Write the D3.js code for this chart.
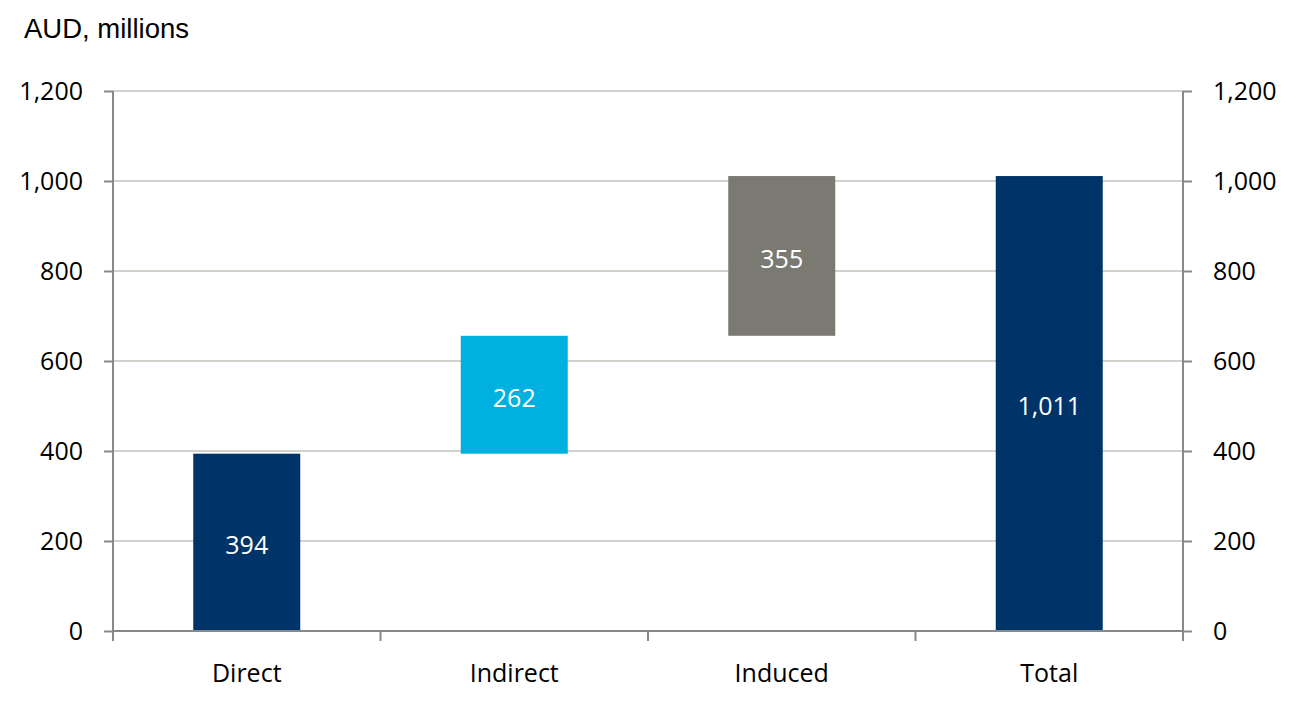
<!DOCTYPE html>
<html>
<head>
<meta charset="utf-8">
<script src="https://cdn.jsdelivr.net/npm/d3@7"></script>
<style>
  body { margin: 0; background: #fff; }
  svg text { font-family: "Open Sans", "Noto Sans", sans-serif; }
</style>
</head>
<body>
<svg id="chart" width="1308" height="704"></svg>
<script>
// waterfall data (AUD millions)
const categories = ["Direct", "Indirect", "Induced", "Total"];
const values = [394, 262, 355, 1011];
const isTotal = [false, false, false, true];
const barColors = ["#003468", "#00b0de", "#7a7a73", "#003468"];
const yTicks = [0, 200, 400, 600, 800, 1000, 1200];

const width = 1308, height = 704;
const margin = {top: 91, right: 125, bottom: 73, left: 113};

const svg = d3.select("#chart");

const x = d3.scaleBand()
    .domain(categories)
    .range([margin.left, width - margin.right])
    .paddingInner(0.6)
    .paddingOuter(0.3);

const y = d3.scaleLinear()
    .domain([0, 1200])
    .range([height - margin.bottom, margin.top]);

// running start/end for each step
let running = 0;
const bars = categories.map((c, i) => {
    let start, end;
    if (isTotal[i]) { start = 0; end = values[i]; }
    else { start = running; end = running + values[i]; running = end; }
    return {cat: c, value: values[i], start, end, color: barColors[i]};
});

// gridlines
svg.append("g")
    .attr("class", "grid")
    .selectAll("line")
    .data(yTicks.filter(d => d > 0))
    .join("line")
    .attr("x1", margin.left)
    .attr("x2", width - margin.right)
    .attr("y1", d => y(d))
    .attr("y2", d => y(d))
    .attr("stroke", "#d3d1cb")
    .attr("stroke-width", 2);

// bars
svg.append("g")
    .attr("class", "bars")
    .selectAll("rect")
    .data(bars)
    .join("rect")
    .attr("x", d => x(d.cat))
    .attr("width", x.bandwidth())
    .attr("y", d => y(d.end))
    .attr("height", d => y(d.start) - y(d.end))
    .attr("fill", d => d.color);

// bar labels
svg.append("g")
    .attr("class", "bar-labels")
    .selectAll("text")
    .data(bars)
    .join("text")
    .attr("x", d => x(d.cat) + x.bandwidth() / 2)
    .attr("y", d => (y(d.start) + y(d.end)) / 2 + 3)
    .attr("dy", "0.35em")
    .attr("text-anchor", "middle")
    .attr("font-size", 25)
    .attr("fill", "#fff")
    .text(d => d3.format(",")(d.value));

const axisColor = "#888888";

// left axis
const left = svg.append("g")
    .attr("transform", `translate(${margin.left},0)`)
    .call(d3.axisLeft(y).tickValues(yTicks).tickFormat(d3.format(",")).tickSize(9).tickPadding(21));
// right axis
const right = svg.append("g")
    .attr("transform", `translate(${width - margin.right},0)`)
    .call(d3.axisRight(y).tickValues(yTicks).tickFormat(d3.format(",")).tickSize(9).tickPadding(21));

[left, right].forEach(g => {
    g.select(".domain").remove();
    g.selectAll(".tick line").attr("stroke", axisColor).attr("stroke-width", 2);
    g.selectAll(".tick text").attr("font-size", 25).attr("fill", "#000")
        .attr("font-family", "'Open Sans', sans-serif");
});

// vertical axis lines
svg.append("g")
    .selectAll("line")
    .data([margin.left, width - margin.right])
    .join("line")
    .attr("x1", d => d).attr("x2", d => d)
    .attr("y1", y(1200)).attr("y2", y(0))
    .attr("stroke", axisColor).attr("stroke-width", 2);

// bottom axis with ticks at band boundaries
const bottom = svg.append("g").attr("class", "x-axis");
bottom.append("line")
    .attr("x1", margin.left).attr("x2", width - margin.right)
    .attr("y1", y(0)).attr("y2", y(0))
    .attr("stroke", axisColor).attr("stroke-width", 2);

const bounds = d3.range(categories.length + 1).map(i => margin.left + i * (width - margin.left - margin.right) / categories.length);
bottom.selectAll("line.tick")
    .data(bounds)
    .join("line")
    .attr("class", "tick")
    .attr("x1", d => d).attr("x2", d => d)
    .attr("y1", y(0)).attr("y2", y(0) + 10)
    .attr("stroke", axisColor).attr("stroke-width", 2);

bottom.selectAll("text")
    .data(categories)
    .join("text")
    .attr("x", d => x(d) + x.bandwidth() / 2)
    .attr("y", 682)
    .attr("text-anchor", "middle")
    .attr("font-size", 25)
    .attr("fill", "#000")
    .text(d => d);

// unit title
svg.append("text")
    .attr("x", 24)
    .attr("y", 38)
    .attr("font-size", 27.5)
    .attr("fill", "#000")
    .style("font-family", "'Liberation Sans', Arial, sans-serif")
    .text("AUD, millions");
</script>
</body>
</html>
